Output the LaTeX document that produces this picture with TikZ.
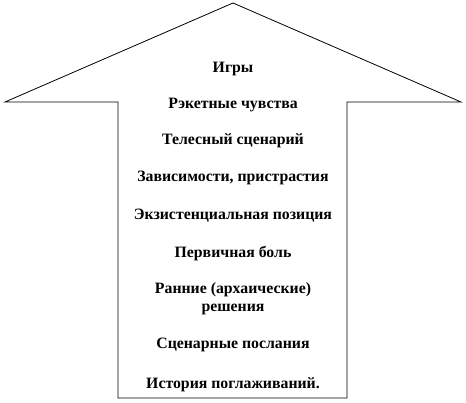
\documentclass[tikz,border=0pt]{standalone}
\usepackage{fontspec}
\setmainfont{Liberation Serif}
\begin{document}
\begin{tikzpicture}[x=1pt,y=1pt,
  lbl/.style={font=\bfseries\fontsize{15.8}{18}\selectfont, align=center, inner sep=0pt},
  outline/.style={draw=black, line width=0.8pt, line join=miter}]
\useasboundingbox (0,0) rectangle (466,403);
\coordinate (apex) at (233,400);
\coordinate (lw) at (5,301);
\coordinate (ls) at (118,301);
\coordinate (lb) at (118,5);
\coordinate (rb) at (347,5);
\coordinate (rs) at (347,301);
\coordinate (rw) at (461,301);
\draw[outline] (apex) -- (lw) -- (ls) -- (lb) -- (rb) -- (rs) -- (rw) -- cycle;
\node[lbl] (t1) at (233,334) {Игры};
\node[lbl] (t2) at (233,298) {Рэкетные чувства};
\node[lbl] (t3) at (233,262) {Телесный сценарий};
\node[lbl] (t4) at (233,225) {Зависимости, пристрастия};
\node[lbl] (t5) at (233,187) {Экзистенциальная позиция};
\node[lbl] (t6) at (233,149) {Первичная боль};
\node[lbl] (t7) at (233,104) {Ранние (архаические)\\решения};
\node[lbl] (t8) at (233,58) {Сценарные послания};
\node[lbl] (t9) at (233,18) {История поглаживаний.};
\end{tikzpicture}
\end{document}
